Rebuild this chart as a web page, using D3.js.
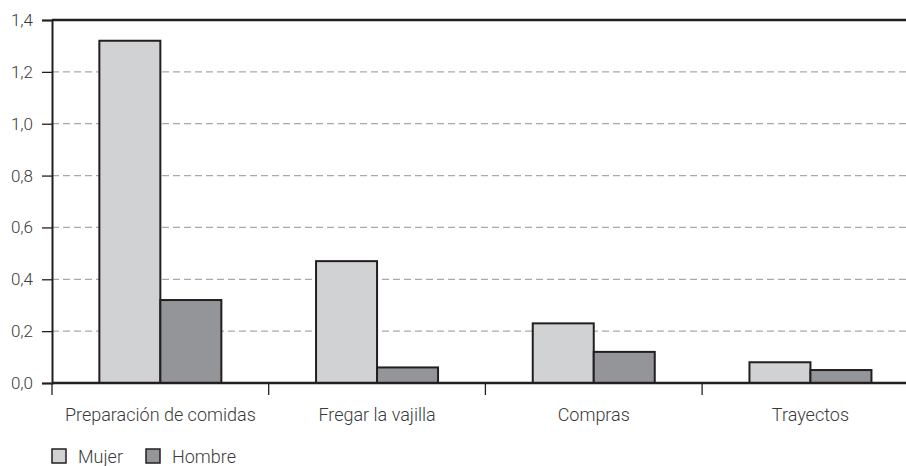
<!DOCTYPE html>
<html>
<head>
<meta charset="utf-8">
<script src="https://cdn.jsdelivr.net/npm/d3@7"></script>
<style>
  body { margin: 0; background: #fff; }
  text { font-family: Roboto, "DejaVu Sans Condensed", sans-serif; font-weight: 300; fill: #3a3a3a; }
</style>
</head>
<body>
<div id="chart"></div>
<script>
// data
var categories = ["Preparación de comidas", "Fregar la vajilla", "Compras", "Trayectos"];
var seriesNames = ["Mujer", "Hombre"];
var mujer = [1.32, 0.47, 0.23, 0.08];
var hombre = [0.32, 0.06, 0.12, 0.05];
var yTicks = [0, 0.2, 0.4, 0.6, 0.8, 1.0, 1.2, 1.4];

var colors = { Mujer: "#d1d2d4", Hombre: "#939598" };

var svgWidth = 906, svgHeight = 466;
var margin = { top: 20, left: 52 };
var x0 = 52, bandW = 216.7;

var svg = d3.select("#chart").append("svg")
  .attr("width", svgWidth)
  .attr("height", svgHeight);

var x = d3.scaleBand()
  .domain(categories)
  .range([x0, x0 + bandW * categories.length])
  .paddingInner(0).paddingOuter(0);

var xInner = d3.scaleBand()
  .domain(seriesNames)
  .range([0, 122]);

var y = d3.scaleLinear()
  .domain([0, 1.4])
  .range([383, margin.top]);

var fmt = function(d) { return d3.format(".1f")(d).replace(".", ","); };

// dashed gridlines
svg.append("g")
  .selectAll("line")
  .data(yTicks.filter(function(d) { return d > 0 && d < 1.4; }))
  .enter()
  .append("line")
  .attr("x1", x0).attr("x2", svgWidth)
  .attr("y1", function(d) { return y(d); })
  .attr("y2", function(d) { return y(d); })
  .attr("stroke", "#a7a9ac")
  .attr("stroke-width", 1.2)
  .attr("stroke-dasharray", "7,4");

// bars
var rows = categories.map(function(c, i) {
  return { cat: c, values: [{ key: "Mujer", v: mujer[i] }, { key: "Hombre", v: hombre[i] }] };
});

var groups = svg.selectAll(".grp")
  .data(rows)
  .enter()
  .append("g")
  .attr("transform", function(d) { return "translate(" + (x(d.cat) + x.bandwidth() / 2 - 61) + ",0)"; });

groups.selectAll("rect")
  .data(function(d) { return d.values; })
  .enter()
  .append("rect")
  .attr("x", function(d) { return xInner(d.key); })
  .attr("width", xInner.bandwidth())
  .attr("y", function(d) { return y(d.v); })
  .attr("height", function(d) { return y(0) - y(d.v); })
  .attr("fill", function(d) { return colors[d.key]; })
  .attr("stroke", "#231f20")
  .attr("stroke-width", 2);

// y axis
var yAxis = d3.axisLeft(y).tickValues(yTicks).tickFormat(fmt).tickSize(10).tickPadding(9);
var gy = svg.append("g").attr("transform", "translate(" + x0 + ",0)").call(yAxis);
gy.select(".domain").attr("stroke", "#231f20").attr("stroke-width", 2);
gy.selectAll(".tick line").attr("stroke", "#231f20").attr("stroke-width", 1.3);
gy.selectAll(".tick text").style("font-size", "17px").attr("fill", "#3a3a3a");

// top frame line
svg.append("line")
  .attr("x1", x0).attr("x2", svgWidth)
  .attr("y1", y(1.4)).attr("y2", y(1.4))
  .attr("stroke", "#231f20").attr("stroke-width", 2.5);

// x axis
var xAxis = d3.axisBottom(x).tickSize(0).tickPadding(25);
var gx = svg.append("g").attr("transform", "translate(0," + y(0) + ")").call(xAxis);
gx.select(".domain").remove();
gx.selectAll(".tick text").style("font-size", "18px").attr("fill", "#3a3a3a");
svg.append("line")
  .attr("x1", x0).attr("x2", svgWidth)
  .attr("y1", y(0)).attr("y2", y(0))
  .attr("stroke", "#231f20").attr("stroke-width", 2.5);

// separator ticks between categories
svg.append("g")
  .selectAll("line")
  .data(categories)
  .enter()
  .append("line")
  .attr("x1", function(d) { return x(d); })
  .attr("x2", function(d) { return x(d); })
  .attr("y1", y(0)).attr("y2", y(0) + 12)
  .attr("stroke", "#231f20").attr("stroke-width", 1.3);

// legend
var legendX = [52, 146];
var legend = svg.selectAll(".legend")
  .data(seriesNames)
  .enter()
  .append("g")
  .attr("transform", function(d, i) { return "translate(" + legendX[i] + ",449)"; });

legend.append("rect")
  .attr("width", 14).attr("height", 14)
  .attr("fill", function(d) { return colors[d]; })
  .attr("stroke", "#231f20").attr("stroke-width", 1.5);

legend.append("text")
  .attr("x", 26).attr("y", 14)
  .style("font-size", "18px")
  .text(function(d) { return d; });
</script>
</body>
</html>
